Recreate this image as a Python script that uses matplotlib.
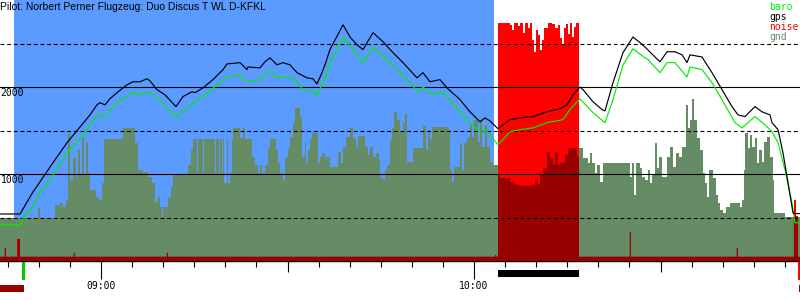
import numpy as np
import matplotlib
matplotlib.use('Agg')
import matplotlib.pyplot as plt
from matplotlib.ticker import NullLocator

# czas w minutach od 08:00, wysokosci w metrach
title = 'Pilot: Norbert Perner Flugzeug: Duo Discus T WL D-KFKL'

gps_t = [43.75, 46.97, 49.06, 50.18, 51.79, 54.53, 56.62, 58.23, 59.35, 59.84,
         60.64, 61.44, 62.57, 64.18, 65.14, 66.27, 67.40, 67.88, 69.0, 70.29,
         72.06, 73.19, 74.64, 75.12, 76.40, 78.01, 79.62, 80.26, 82.36, 83.48,
         83.64, 85.57, 86.38, 87.18, 88.31, 89.27, 90.40, 91.53, 93.13, 94.10,
         94.74, 95.55, 96.03, 96.83, 98.93, 100.05, 101.18, 102.14, 103.75, 105.36,
         106.97, 108.58, 110.83, 111.79, 112.92, 114.53, 115.65, 117.75, 119.35, 120.96,
         121.77, 122.57, 123.86, 125.79, 127.40, 129.49, 131.74, 133.83, 134.96, 135.92,
         137.05, 137.53, 139.14, 140.59, 141.07, 142.36, 143.97, 145.57, 146.70, 147.50,
         149.11, 149.92, 151.05, 152.33, 153.46, 154.26, 154.75, 156.68, 157.16, 158.28,
         159.89, 161.50, 162.46, 163.59, 165.20, 166.33, 167.61, 167.94, 168.90, 169.70,
         170.51, 171.31, 171.47, 172.44]
gps_alt = [540, 540, 795, 910, 1080, 1360, 1540, 1680, 1795, 1820,
           1795, 1865, 1935, 2025, 2060, 2060, 2095, 2070, 1970, 1910,
           1775, 1890, 1945, 1935, 1990, 2085, 2200, 2265, 2280, 2200,
           2230, 2220, 2290, 2335, 2255, 2280, 2255, 2165, 2105, 2095,
           2035, 2165, 2255, 2430, 2715, 2575, 2485, 2430, 2625, 2520,
           2395, 2280, 2105, 2165, 2060, 2085, 1990, 1855, 1715, 1600,
           1645, 1610, 1520, 1625, 1645, 1660, 1715, 1750, 1795, 1910,
           2000, 1970, 1830, 1740, 1725, 2050, 2395, 2575, 2510, 2460,
           2345, 2290, 2405, 2405, 2370, 2280, 2370, 2345, 2290, 2165,
           1970, 1775, 1680, 1660, 1775, 1715, 1680, 1590, 1510, 1245,
           900, 555, 545, 545]

baro_t = [43.75, 46.97, 47.45, 49.06, 50.18, 51.79, 54.53, 57.10, 59.35, 60.64,
          62.57, 65.14, 66.27, 67.40, 68.36, 70.29, 72.06, 74.31, 76.40, 78.66,
          80.26, 82.36, 83.48, 85.57, 87.18, 88.31, 89.27, 90.88, 92.49, 94.10,
          94.74, 96.03, 96.83, 98.93, 100.37, 102.14, 103.75, 106.0, 108.09, 109.70,
          110.99, 111.79, 113.40, 114.85, 115.65, 117.26, 119.35, 121.28, 121.77, 122.57,
          123.86, 125.79, 127.40, 129.49, 131.74, 134.31, 135.44, 137.05, 139.14, 141.07,
          142.36, 143.97, 145.57, 147.50, 148.0, 149.92, 151.05, 152.33, 154.26, 154.75,
          156.68, 158.28, 159.89, 161.98, 163.11, 165.20, 166.81, 167.94, 168.90, 170.02,
          171.15, 171.63, 172.44]
baro_alt = [415, 415, 495, 625, 795, 935, 1245, 1450, 1680, 1660,
            1820, 1935, 1910, 1945, 1910, 1795, 1645, 1795, 1890, 2025,
            2115, 2140, 2060, 2085, 2185, 2115, 2115, 2105, 1970, 1945,
            1900, 2105, 2280, 2565, 2450, 2280, 2460, 2315, 2165, 2050,
            1945, 2000, 1910, 1945, 1890, 1760, 1590, 1475, 1510, 1450,
            1335, 1485, 1510, 1530, 1590, 1625, 1740, 1865, 1705, 1590,
            1855, 2255, 2440, 2335, 2315, 2165, 2280, 2280, 2115, 2230,
            2200, 2050, 1855, 1590, 1530, 1660, 1565, 1485, 1360, 1050,
            670, 440, 440]

gnd_t = [43.75, 49.86, 50.18, 52.60, 53.40, 53.88, 54.37, 54.69, 55.01, 55.49,
         55.98, 56.30, 56.62, 56.94, 57.26, 57.58, 57.91, 58.23, 59.19, 59.68,
         60.16, 60.48, 63.54, 65.47, 65.95, 66.75, 67.56, 68.20, 68.68, 69.17,
         69.49, 69.81, 69.97, 70.77, 71.26, 71.58, 73.99, 74.47, 74.80, 75.44,
         75.60, 76.40, 76.57, 78.33, 78.50, 78.98, 79.14, 79.46, 79.62, 79.78,
         80.26, 80.43, 80.75, 81.07, 81.23, 82.36, 82.84, 83.16, 84.29, 84.77,
         85.25, 85.57, 85.90, 86.38, 86.86, 87.18, 88.15, 88.47, 88.79, 89.27,
         89.60, 90.08, 90.40, 90.88, 91.20, 91.69, 92.01, 92.33, 92.81, 92.97,
         93.30, 93.62, 93.94, 94.90, 95.22, 95.55, 96.03, 96.83, 98.12, 98.60,
         98.93, 99.41, 100.05, 100.53, 101.02, 101.34, 102.46, 102.95, 103.27, 103.75,
         104.23, 104.72, 104.88, 105.36, 105.68, 106.0, 106.49, 106.81, 107.13, 107.61,
         108.09, 108.58, 108.90, 109.22, 110.18, 111.79, 112.28, 112.60, 112.92, 113.24,
         115.97, 116.14, 116.46, 116.78, 117.75, 118.07, 118.39, 118.87, 119.35, 119.68,
         120.0, 120.64, 120.96, 121.28, 121.77, 122.09, 122.57, 123.05, 123.86, 124.18,
         125.79, 126.59, 127.40, 129.01, 129.81, 130.29, 130.61, 131.10, 131.74, 132.22,
         132.71, 133.03, 133.51, 133.83, 134.64, 135.12, 136.57, 136.89, 137.53, 138.33,
         138.66, 138.98, 139.46, 139.78, 140.27, 140.75, 145.09, 145.41, 145.74, 146.06,
         146.70, 147.02, 147.50, 147.99, 148.31, 148.63, 149.11, 149.44, 149.76, 150.24,
         151.05, 151.53, 152.01, 152.50, 152.98, 153.46, 154.10, 154.43, 154.75, 155.07,
         155.39, 155.87, 156.36, 156.84, 157.16, 157.48, 157.80, 158.45, 158.93, 159.25,
         159.57, 160.05, 160.54, 161.18, 162.79, 163.11, 163.43, 163.59, 164.07, 164.40,
         164.72, 165.20, 165.53, 165.85, 166.33, 166.65, 167.13, 167.61, 168.10, 168.26,
         170.02, 172.44]
gnd_alt = [495, 610, 495, 645, 670, 625, 705, 1475, 935, 1185,
           970, 1280, 990, 1430, 990, 1360, 1015, 820, 740, 705,
           900, 1405, 1530, 1360, 1050, 1025, 970, 900, 680, 740,
           625, 510, 625, 725, 855, 990, 1105, 1280, 1405, 1015,
           1405, 1015, 1405, 1015, 1405, 1015, 1405, 1015, 1405, 900,
           1405, 900, 1015, 1395, 1530, 1415, 1530, 1405, 1200, 1105,
           1015, 1105, 1015, 1105, 1300, 1405, 1280, 1130, 1015, 935,
           1200, 1300, 1430, 1590, 1760, 1775, 1660, 1200, 1370, 1130,
           1280, 1405, 1475, 1130, 1200, 1245, 1200, 1085, 1255, 1130,
           1315, 1430, 1530, 1415, 1315, 1440, 1315, 1220, 1315, 1200,
           1245, 1165, 970, 935, 1050, 1105, 1395, 1530, 1715, 1625,
           1485, 1590, 1690, 1140, 1300, 1555, 1280, 1510, 1405, 1545,
           1510, 1050, 910, 1085, 1360, 1050, 1360, 1415, 1565, 1430,
           1625, 1370, 1625, 1315, 1565, 1315, 1140, 1105, 990, 955,
           910, 875, 865, 875, 935, 875, 990, 1070, 1255, 1185,
           1105, 1245, 1105, 1130, 1220, 1300, 1200, 1300, 1185, 1130,
           1245, 1130, 1015, 1105, 910, 1130, 970, 1130, 760, 1130,
           1070, 970, 935, 1050, 900, 990, 1360, 1070, 1200, 970,
           1200, 1315, 1085, 1245, 1200, 1315, 1795, 1530, 1625, 1865,
           1625, 1415, 1280, 1015, 900, 740, 1050, 955, 760, 670,
           590, 555, 625, 670, 625, 705, 1050, 1475, 1300, 1450,
           1315, 1415, 1130, 1280, 1140, 1370, 1430, 1200, 935, 555,
           510, 510]

noise_t = [43.75, 44.50, 44.70, 46.55, 46.95, 55.60, 55.80, 70.55, 70.75, 123.40,
           123.60, 123.86, 124.99, 125.79, 126.11, 126.43, 127.08, 127.40, 127.88, 128.20,
           128.69, 129.01, 129.33, 129.65, 129.97, 130.29, 130.61, 130.94, 131.26, 131.90,
           132.55, 133.03, 133.51, 133.83, 134.16, 134.48, 134.80, 135.12, 135.44, 135.77,
           136.09, 136.41, 136.89, 145.05, 145.25, 162.25, 162.45, 171.45, 171.80, 172.10,
           172.44]
noise_val = [50, 150, 50, 255, 50, 95, 50, 95, 50, 70,
             50, 2740, 2740, 2715, 2655, 2740, 2705, 2740, 2625, 2740,
             2680, 2740, 2540, 2405, 2655, 2600, 2430, 2540, 2680, 2740,
             2725, 2680, 2715, 2565, 2485, 2680, 2725, 2610, 2740, 2575,
             2690, 2740, 50, 335, 50, 150, 50, 705, 520, 50,
             50]

# zdarzenia
task_start, task_end = 46.0, 123.22
engine_start, engine_end = 123.86, 136.89
takeoff = 47.53
landing = 172.28
t_min, t_max = 43.75, 172.44

hour_ticks = [60, 120]
hour_labels = ['09:00', '10:00']
half_ticks = [90, 150]
alt_solid = [1000, 2000]
alt_dashed = [500, 1500, 2500]

col_blue = '#5b9bff'
col_gnd = '#668c66'
col_dark = '#990000'
col_noise = '#ff0000'
col_baro = '#00ee00'
mono = 'DejaVu Sans Mono'


def step_at(ts, vs, t):
    idx = np.searchsorted(ts, t, side='right') - 1
    return np.asarray(vs)[np.clip(idx, 0, None)]


fig = plt.figure(figsize=(8, 3), dpi=100)
ax = fig.add_axes([0, 39 / 300, 1, 261 / 300])
ax.set_xlim(t_min, t_max)
ax.set_ylim(0, 3000)

ax.axvspan(task_start, task_end, color=col_blue, lw=0, zorder=0)
ax.fill_between(gnd_t, 0, gnd_alt, step='post', color=col_gnd, lw=0, zorder=1)
ax.fill_between(noise_t, 0, noise_val, step='post', color=col_noise, lw=0, zorder=2)
grid = np.union1d(gnd_t, noise_t)
overlap = np.minimum(step_at(gnd_t, gnd_alt, grid), step_at(noise_t, noise_val, grid))
ax.fill_between(grid, 0, overlap, step='post', color=col_dark, lw=0, zorder=3)

for h in alt_solid:
    ax.axhline(h, color='black', lw=0.8, zorder=4)
for h in alt_dashed:
    ax.axhline(h, color='black', lw=0.8, dashes=(3.5, 2.5), zorder=4)

ax.plot(baro_t, baro_alt, color=col_baro, lw=0.85, zorder=5)
ax.plot(gps_t, gps_alt, color='black', lw=0.85, zorder=6)

for h in alt_solid:
    ax.text(0.001, h - 15, str(h), transform=ax.get_yaxis_transform(),
            va='top', ha='left', fontsize=7, family=mono)

# os czasu
for s in ['left', 'top', 'right']:
    ax.spines[s].set_visible(False)
ax.spines['bottom'].set_linewidth(1)
ax.set_yticks([])
ax.set_xticks(hour_ticks, labels=hour_labels)
ax.set_xticks(np.arange(45, 175, 5), minor=True)
ax.tick_params(which='major', length=13, width=0.8, pad=1.5, labelsize=7)
ax.tick_params(which='minor', length=4.3, width=0.8)
for lab in ax.get_xticklabels():
    lab.set_family(mono)
sec = ax.secondary_xaxis('bottom')
sec.set_xticks(half_ticks)
sec.xaxis.set_minor_locator(NullLocator())
sec.tick_params(length=8, width=0.8, labelbottom=False)
sec.spines['bottom'].set_visible(False)

# znaczniki startu, ladowania, pracy silnika
tr = ax.get_xaxis_transform()
ax.add_patch(plt.Rectangle((takeoff - 0.24, -0.072), 0.48, 0.069, color='#00cc00',
                           transform=tr, clip_on=False, lw=0))
ax.add_patch(plt.Rectangle((landing - 0.16, -0.072), 0.32, 0.069, color=col_noise,
                           transform=tr, clip_on=False, lw=0))
ax.add_patch(plt.Rectangle((engine_start, -0.060), engine_end - engine_start, 0.027,
                           color='black', transform=tr, clip_on=False, lw=0))
ax.add_patch(plt.Rectangle((t_min, -0.118), takeoff + 0.1 - t_min, 0.027, color=col_dark,
                           transform=tr, clip_on=False, lw=0))
ax.add_patch(plt.Rectangle((landing, -0.118), t_max - landing, 0.027, color=col_dark,
                           transform=tr, clip_on=False, lw=0))

fig.text(0.0, 1 - 10 / 300, title, fontsize=7.5, family='Liberation Sans', va='baseline')

legend = [('baro', col_baro), ('gps', 'black'), ('noise', col_noise), ('gnd', col_gnd)]
for i, (name, c) in enumerate(legend):
    fig.text(769 / 800, 1 - (10 + 10 * i) / 300, name, color=c, fontsize=7,
             family=mono, va='baseline')

fig.savefig('out.png', dpi=100)
